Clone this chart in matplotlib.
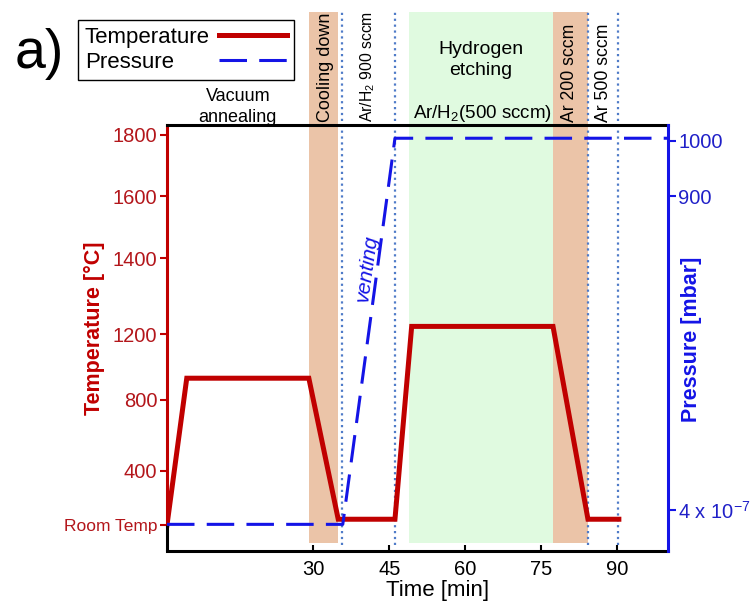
import matplotlib.pyplot as plt
import numpy as np

plt.rcParams['font.family'] = ['Liberation Sans', 'DejaVu Sans']
plt.rcParams['mathtext.fontset'] = 'custom'
plt.rcParams['mathtext.rm'] = 'Liberation Sans'
plt.rcParams['mathtext.it'] = 'Liberation Sans:italic'
plt.rcParams['mathtext.bf'] = 'Liberation Sans:bold'
plt.rcParams['mathtext.default'] = 'regular'

# temperature programme: time [min], temperature [°C]
temp_time = [1.1, 5.0, 29.1, 34.9, 46.1, 49.4, 77.3, 84.2, 90.3]
temp_value = [25, 930, 930, 65, 65, 1220, 1220, 65, 65]

# chamber pressure: time [min], pressure [mbar]
pres_time = [1.1, 35.8, 46.1, 100.0]
pres_value = [2.6e-7, 2.6e-7, 1005, 1005]

# process windows [min]
cooling_spans = [(29.1, 34.9), (77.3, 84.2)]
etching_span = (48.9, 77.3)
gas_switch_times = [35.6, 46.1, 84.2, 90.1]

# schematic (non linear) axes: value -> relative height
temp_ticks = [25, 400, 800, 1200, 1400, 1600, 1800]
temp_tick_labels = ['Room Temp', '400', '800', '1200', '1400', '1600', '1800']
temp_scale_T = [-155, 25, 400, 800, 1200, 1400, 1600, 1800, 1833]
temp_scale_h = [0, 26, 80, 151.5, 217, 293, 355, 416, 426]

pres_ticks = [4e-7, 900, 1000]
pres_tick_labels = [r'4 x 10$^{-7}$', '900', '1000']
pres_scale_P = [0, 4e-7, 900, 1000, 1029]
pres_scale_h = [0, 41, 355, 410, 426]

time_ticks = [30, 45, 60, 75, 90]

RED = '#C00000'
RED_TXT = '#B3161B'
BLUE = '#1414E6'
BLUE_TXT = '#2020C8'
TAN = '#EBC4A8'
GREEN = '#E0FAE0'
DOT = '#4F7BC8'

W, H = 754, 603
fig = plt.figure(figsize=(W / 100, H / 100), dpi=100)
ax = fig.add_axes([167 / W, 1 - 551 / H, 501 / W, 426 / H])
ax2 = ax.twinx()

ax.set_yscale('function', functions=(lambda v: np.interp(v, temp_scale_T, temp_scale_h),
                                     lambda h: np.interp(h, temp_scale_h, temp_scale_T)))
ax2.set_yscale('function', functions=(lambda v: np.interp(v, pres_scale_P, pres_scale_h),
                                      lambda h: np.interp(h, pres_scale_h, pres_scale_P)))

xt = ax.get_xaxis_transform()

# shaded process windows, reaching up into the label area
for x0, x1 in cooling_spans:
    ax.axvspan(x0, x1, ymin=0.019, ymax=1.265, color=TAN, lw=0, zorder=0, clip_on=False)
ax.axvspan(*etching_span, ymin=0.019, ymax=1.265, color=GREEN, lw=0, zorder=0, clip_on=False)
for t in gas_switch_times:
    ax.axvline(t, ymin=0.014, ymax=1.265, color=DOT, ls=':', lw=1.6, zorder=1, clip_on=False)

l_temp, = ax.plot(temp_time, temp_value, color=RED, lw=3.6, solid_joinstyle='miter',
                  zorder=3, label='Temperature')
l_pres, = ax2.plot(pres_time, pres_value, color=BLUE, lw=2.2, dashes=(9, 4),
                   zorder=3, label='Pressure')

ax.set_xlim(1.1, 100)
ax.set_ylim(temp_scale_T[0], temp_scale_T[-1])
ax2.set_ylim(pres_scale_P[0], pres_scale_P[-1])

# axes styling
ax.set_xticks(time_ticks)
ax.tick_params(axis='x', direction='in', length=4, width=1.5, labelsize=14.5, pad=6.5)
ax.set_yticks(temp_ticks)
ax.set_yticklabels(temp_tick_labels)
ax.tick_params(axis='y', direction='out', length=5, width=1.5, color=RED,
               labelcolor=RED_TXT, labelsize=14.5, pad=2)
ax.get_yticklabels()[0].set_fontsize(12.5)
ax2.set_yticks(pres_ticks)
ax2.set_yticklabels(pres_tick_labels)
ax2.tick_params(axis='y', direction='out', length=6, width=1.5, color=BLUE,
                labelcolor=BLUE_TXT, labelsize=14.5, pad=1.5)

for s in ['top', 'bottom']:
    ax.spines[s].set_linewidth(2.2)
ax.spines['right'].set_visible(False)
ax.spines['left'].set_color(RED)
ax.spines['left'].set_linewidth(2.2)
ax.spines['left'].set_bounds(25, temp_scale_T[-1])
ax.plot([1.1, 1.1], [temp_scale_T[0], 25], color='k', lw=2.2, clip_on=False,
        solid_capstyle='butt', zorder=4)
for s in ['left', 'top', 'bottom']:
    ax2.spines[s].set_visible(False)
ax2.spines['right'].set_color(BLUE)
ax2.spines['right'].set_linewidth(2.2)

ax.set_xlabel('Time [min]', fontsize=16)
ax.xaxis.set_label_coords(0.541, -0.069)
ax.set_ylabel('Temperature [°C]', fontsize=15.5, fontweight='bold', color=RED)
ax.yaxis.set_label_coords(-0.124, 0.523)
ax2.set_ylabel('Pressure [mbar]', fontsize=15.5, fontweight='bold', color=BLUE)
ax2.yaxis.set_label_coords(1.025, 0.498)

# phase annotations
ax.text(15.1, 1.043, 'Vacuum\nannealing', transform=xt, ha='center', va='center',
        fontsize=13, linespacing=1.3)
ax.text(63.1, 1.153, 'Hydrogen\netching', transform=xt, ha='center', va='center',
        fontsize=14, linespacing=1.3)
ax.text(63.3, 1.028, r'Ar/H$_2$(500 sccm)', transform=xt, ha='center', va='center',
        fontsize=13.5)
ax.text(32.3, 1.007, 'Cooling down', transform=xt, ha='center', va='bottom',
        rotation=90, fontsize=13)
ax.text(40.8, 1.007, r'Ar/H$_2$ 900 sccm', transform=xt, ha='center', va='bottom',
        rotation=90, fontsize=11.3)
ax.text(80.6, 1.007, 'Ar 200 sccm', transform=xt, ha='center', va='bottom',
        rotation=90, fontsize=12.7)
ax.text(87.2, 1.007, 'Ar 500 sccm', transform=xt, ha='center', va='bottom',
        rotation=90, fontsize=12.7)
ax.text(40.6, 0.664, 'venting', transform=xt, ha='center', va='center',
        rotation=82, style='italic', color=BLUE, fontsize=15)

fig.text(15 / W, 1 - 54 / H, 'a)', ha='left', va='center', fontsize=40)

leg = fig.legend(handles=[l_temp, l_pres], loc='upper left',
                 bbox_to_anchor=(78 / W, 1 - 20 / H), borderaxespad=0,
                 markerfirst=False, fontsize=16, handlelength=3.1,
                 handletextpad=0.4, labelspacing=0.2, borderpad=0.3,
                 fancybox=False, edgecolor='k', framealpha=1)
leg.get_frame().set_linewidth(1.0)

# left-align the labels while keeping the handles in one column
fig.canvas.draw()
renderer = fig.canvas.get_renderer()
widths = [t.get_window_extent(renderer).width for t in leg.get_texts()]
rows = leg._legend_handle_box.get_children()[0].get_children()
for row, w in zip(rows, widths):
    row.sep += (max(widths) - w) * 72 / fig.dpi

fig.savefig('out.png', dpi=100)
